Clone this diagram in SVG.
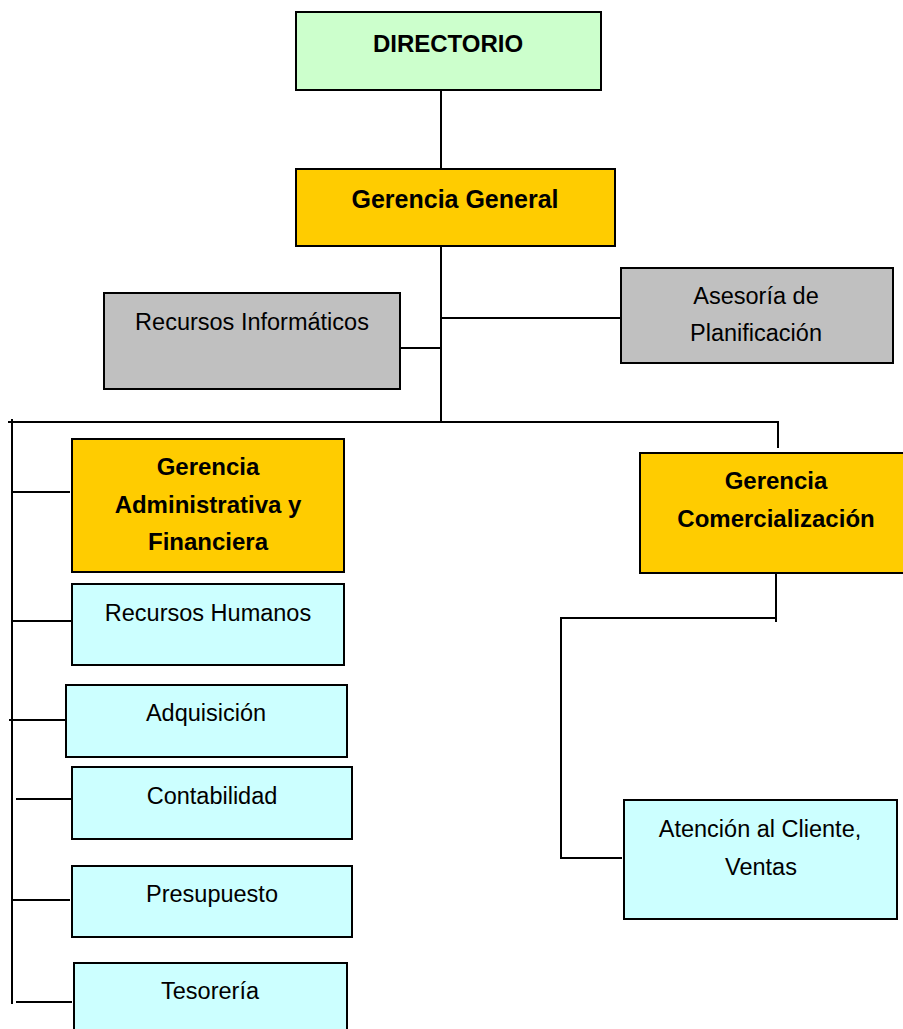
<svg xmlns="http://www.w3.org/2000/svg" width="903" height="1029" viewBox="0 0 903 1029">
<style>
.box{stroke:#000;stroke-width:2}
.green{fill:#CCFFCC}
.gold{fill:#FFCC00}
.grey{fill:#C0C0C0}
.cyan{fill:#CCFFFF}
text{font-family:"Liberation Sans",Arial,sans-serif;font-size:23.5px;fill:#000;text-anchor:middle}
.b{font-weight:bold;font-size:24px}
.conn line{stroke:#000;stroke-width:2}
</style>
<rect width="903" height="1029" fill="#fff"/>
<g class="conn">
<line x1="441" y1="90" x2="441" y2="169"/>
<line x1="441" y1="246" x2="441" y2="422"/>
<line x1="441" y1="318" x2="621" y2="318"/>
<line x1="400" y1="348" x2="441" y2="348"/>
<line x1="8" y1="422" x2="778" y2="422"/>
<line x1="778" y1="421" x2="778" y2="448"/>
<line x1="12" y1="419" x2="12" y2="1004"/>
<line x1="12" y1="492" x2="70" y2="492"/>
<line x1="12" y1="621" x2="75" y2="621"/>
<line x1="9" y1="720" x2="66" y2="720"/>
<line x1="16" y1="799" x2="72" y2="799"/>
<line x1="12" y1="900" x2="70" y2="900"/>
<line x1="16" y1="1002" x2="72" y2="1002"/>
<line x1="776" y1="573" x2="776" y2="622"/>
<line x1="560" y1="618" x2="777" y2="618"/>
<line x1="561" y1="617" x2="561" y2="859"/>
<line x1="560" y1="858" x2="622" y2="858"/>
</g>
<g id="directorio"><rect class="box green" x="296" y="12" width="305" height="78"/><text class="b" x="448" y="52">DIRECTORIO</text></g>
<g id="gerencia-general"><rect class="box gold" x="296" y="169" width="319" height="77"/><text class="b" x="455" y="208" style="font-size:25px">Gerencia General</text></g>
<g id="recursos-informaticos"><rect class="box grey" x="104" y="293" width="296" height="96"/><text x="252" y="330">Recursos Informáticos</text></g>
<g id="asesoria"><rect class="box grey" x="621" y="268" width="272" height="95"/><text x="756" y="304">Asesoría de</text><text x="756" y="341">Planificación</text></g>
<g id="gerencia-admin"><rect class="box gold" x="72" y="439" width="272" height="133"/><text class="b" x="208" y="475">Gerencia</text><text class="b" x="208" y="513">Administrativa y</text><text class="b" x="208" y="550">Financiera</text></g>
<g id="recursos-humanos"><rect class="box cyan" x="72" y="584" width="272" height="81"/><text x="208" y="621">Recursos Humanos</text></g>
<g id="adquisicion"><rect class="box cyan" x="66" y="685" width="281" height="72"/><text x="206" y="721">Adquisición</text></g>
<g id="contabilidad"><rect class="box cyan" x="72" y="767" width="280" height="72"/><text x="212" y="804">Contabilidad</text></g>
<g id="presupuesto"><rect class="box cyan" x="72" y="866" width="280" height="71"/><text x="212" y="902">Presupuesto</text></g>
<g id="tesoreria"><rect class="box cyan" x="74" y="963" width="273" height="80"/><text x="210" y="999">Tesorería</text></g>
<g id="gerencia-comercial"><rect class="box gold" x="640" y="453" width="271" height="120"/><text class="b" x="776" y="489">Gerencia</text><text class="b" x="776" y="527">Comercialización</text></g>
<g id="atencion"><rect class="box cyan" x="624" y="800" width="273" height="119"/><text x="760" y="837">Atención al Cliente,</text><text x="761" y="875">Ventas</text></g>
</svg>
